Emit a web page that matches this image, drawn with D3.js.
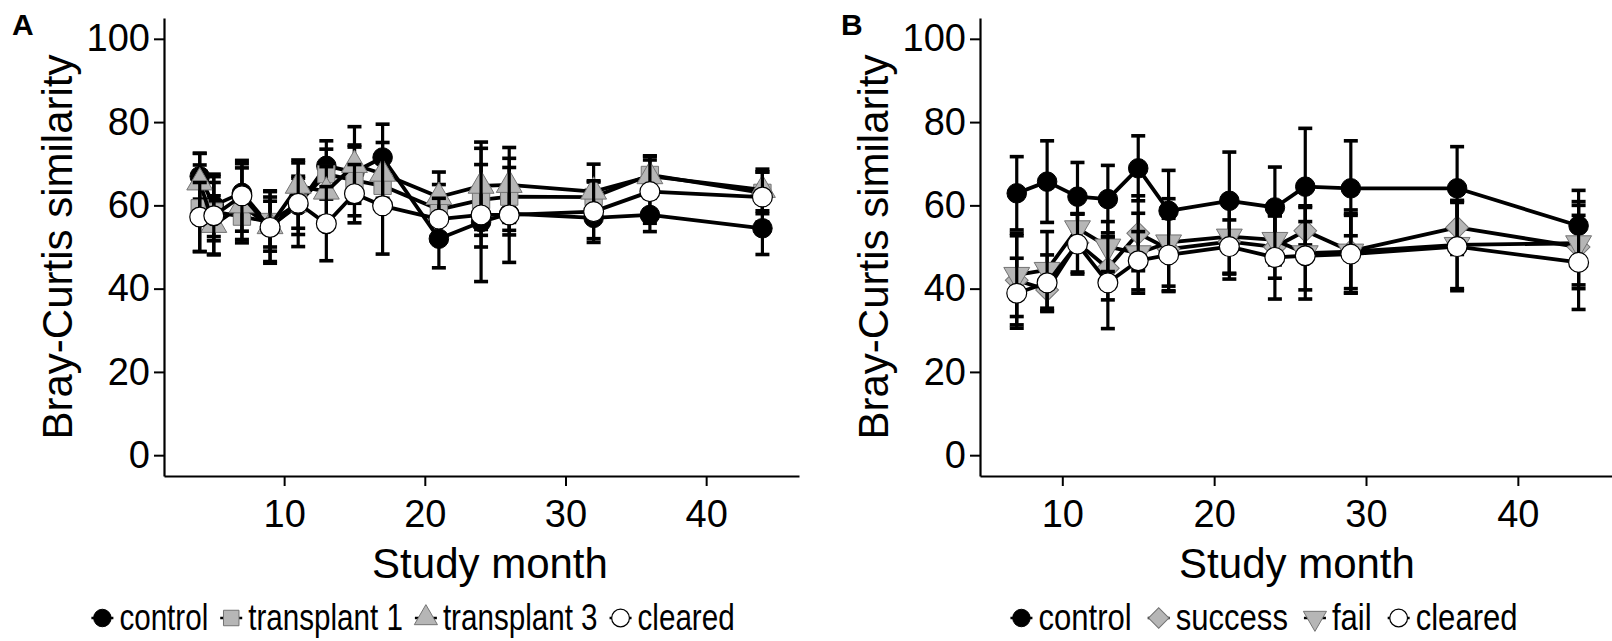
<!DOCTYPE html>
<html>
<head>
<meta charset="utf-8">
<script src="https://cdnjs.cloudflare.com/ajax/libs/d3/7.8.5/d3.min.js"></script>
<style>
  html, body { margin: 0; padding: 0; background: #fff; }
  svg { display: block; font-family: "Liberation Sans", Arial, Helvetica, sans-serif; }
</style>
</head>
<body>
<svg id="chart" width="1612" height="641"></svg>
<script>
// ---- Panel A: similarity to donor over time, by transplant group ----
const monthsA = [4, 5, 7, 9, 11, 13, 15, 17, 21, 24, 26, 32, 36, 44];
const controlA      = [67.0, 60.0, 63.0, 55.0, 60.0, 69.5, 68.0, 71.5, 52.0, 56.0, 58.0, 57.0, 57.7, 54.5];
const controlErrA   = [5.5, 7.5, 7.0, 6.0, 7.0, 6.0, 6.0, 8.0, 7.0, 6.0, 4.0, 5.0, 4.0, 6.3];
const transplant1A    = [59.3, 58.5, 57.3, 56.0, 60.5, 67.5, 66.0, 64.7, 59.0, 61.3, 62.1, 62.0, 67.3, 63.0];
const transplant1ErrA = [10.4, 7.0, 5.5, 6.0, 6.0, 6.0, 8.5, 3.0, 6.0, 8.5, 9.2, 3.6, 4.5, 5.0];
const transplant3A    = [65.5, 55.3, 60.0, 55.0, 64.7, 63.3, 69.7, 67.6, 62.0, 64.7, 64.9, 63.3, 67.0, 63.7];
const transplant3ErrA = [7.0, 7.0, 9.0, 8.5, 5.5, 6.0, 9.2, 7.5, 6.0, 10.5, 9.0, 6.6, 4.9, 5.0];
const clearedA      = [57.2, 57.5, 62.3, 54.7, 60.5, 55.6, 62.8, 59.9, 56.7, 57.7, 57.7, 58.5, 63.3, 62.0];
const clearedErrA   = [8.3, 9.4, 8.5, 8.6, 10.4, 8.9, 7.0, 11.6, 5.0, 16.0, 11.4, 7.4, 7.6, 6.0];

// ---- Panel B: similarity by transplant outcome ----
const monthsB = [7, 9, 11, 13, 15, 17, 21, 24, 26, 29, 36, 44];
const controlB      = [62.9, 65.7, 62.1, 61.5, 68.9, 58.7, 61.1, 59.5, 64.5, 64.1, 64.1, 55.1];
const controlErrB   = [8.8, 9.8, 8.2, 8.1, 7.8, 9.7, 11.7, 9.7, 14.0, 11.4, 10.0, 8.5];
const successB      = [42.0, 39.7, 51.0, 44.9, 53.3, 49.5, 51.3, 50.0, 53.9, 49.0, 54.7, 50.0];
const successErrB   = [10.7, 5.2, 7.0, 7.6, 9.0, 10.0, 9.0, 7.5, 6.0, 9.0, 6.5, 10.0];
const failB         = [43.3, 44.5, 54.5, 50.1, 48.5, 51.1, 52.5, 51.7, 48.5, 48.9, 50.5, 50.9];
const failErrB      = [10.0, 9.2, 3.5, 6.0, 9.6, 10.5, 9.0, 6.0, 11.0, 10.0, 10.5, 10.0];
const clearedB      = [38.9, 41.4, 50.7, 41.4, 46.7, 48.1, 50.1, 47.5, 47.9, 48.3, 50.1, 46.3];
const clearedErrB   = [8.4, 6.7, 7.2, 11.0, 7.0, 8.8, 6.4, 10.0, 8.2, 9.3, 10.6, 11.3];

const yTicks = [0, 20, 40, 60, 80, 100];
const xTicks = [10, 20, 30, 40];
const legendA = ["control", "transplant 1", "transplant 3", "cleared"];
const legendB = ["control", "success", "fail", "cleared"];

const GRAY = "#b6b6b6", GRAY_EDGE = "#737373";

// marker styles
const markers = {
  dot:      { type: d3.symbolCircle, size: 300, fill: "#000", stroke: "#000", sw: 1, rot: 0 },
  square:   { type: d3.symbolSquare, size: 300, fill: GRAY, stroke: GRAY_EDGE, sw: 1, rot: 0 },
  triUp:    { type: d3.symbolTriangle, size: 290, fill: GRAY, stroke: GRAY_EDGE, sw: 1, rot: 0 },
  triDown:  { type: d3.symbolTriangle, size: 290, fill: GRAY, stroke: GRAY_EDGE, sw: 1, rot: 180 },
  diamond:  { type: d3.symbolSquare, size: 260, fill: GRAY, stroke: GRAY_EDGE, sw: 1, rot: 45 },
  open:     { type: d3.symbolCircle, size: 310, fill: "#fff", stroke: "#000", sw: 1.2, rot: 0 }
};

const svg = d3.select("#chart");
const FONT_TICK = 38, FONT_TITLE = 42, FONT_LEGEND = 37;

function drawPanel(cfg) {
  const x = d3.scaleLinear().domain(cfg.xDomain).range(cfg.xRange);
  const y = d3.scaleLinear().domain([-5, 105]).range([476, 18]);
  const g = svg.append("g");

  // axes (L-shaped frame)
  const yAxis = d3.axisLeft(y).tickValues(yTicks).tickSize(10).tickSizeOuter(0).tickPadding(4);
  const gy = g.append("g").attr("transform", `translate(${cfg.xRange[0]},0)`).call(yAxis);
  const xAxis = d3.axisBottom(x).tickValues(xTicks).tickSize(10).tickSizeOuter(0).tickPadding(14);
  const gx = g.append("g").attr("transform", `translate(0,476)`).call(xAxis);
  [gx, gy].forEach(a => {
    a.select(".domain").attr("stroke", "#000").attr("stroke-width", 2.2);
    a.selectAll(".tick line").attr("stroke", "#000").attr("stroke-width", 2);
    a.selectAll(".tick text").attr("fill", "#000").attr("font-size", FONT_TICK)
      .attr("font-family", "Liberation Sans, Arial, sans-serif");
  });

  // axis titles
  g.append("text").attr("x", cfg.xTitleX).attr("y", 578).attr("text-anchor", "middle")
    .attr("font-size", FONT_TITLE).text("Study month");
  g.append("text").attr("transform", `translate(${cfg.yTitleX},247) rotate(-90)`)
    .attr("text-anchor", "middle").attr("font-size", FONT_TITLE).text("Bray-Curtis similarity");

  // panel letter
  g.append("text").attr("x", cfg.letterX).attr("y", 35).attr("font-size", 30)
    .attr("font-weight", "bold").text(cfg.letter);

  // series: line, error bars, markers
  const line = d3.line().x(d => x(d.m)).y(d => y(d.v));
  cfg.series.forEach(s => {
    const pts = cfg.months.map((m, i) => ({ m, v: s.values[i], e: s.errs[i] }));
    const sg = g.append("g");
    sg.append("path").datum(pts).attr("d", line).attr("fill", "none")
      .attr("stroke", "#000").attr("stroke-width", 3.8).attr("stroke-linejoin", "round");
    const eb = sg.selectAll(".eb").data(pts).enter().append("g");
    eb.append("line").attr("x1", d => x(d.m)).attr("x2", d => x(d.m))
      .attr("y1", d => y(d.v - d.e)).attr("y2", d => y(d.v + d.e))
      .attr("stroke", "#000").attr("stroke-width", 3.2);
    [-1, 1].forEach(sign => {
      eb.append("line").attr("x1", d => x(d.m) - 7).attr("x2", d => x(d.m) + 7)
        .attr("y1", d => y(d.v + sign * d.e)).attr("y2", d => y(d.v + sign * d.e))
        .attr("stroke", "#000").attr("stroke-width", 3.6);
    });
    const mk = markers[s.marker];
    sg.selectAll(".pt").data(pts).enter().append("path")
      .attr("d", d3.symbol().type(mk.type).size(mk.size))
      .attr("transform", d => `translate(${x(d.m)},${y(d.v)}) rotate(${mk.rot})`)
      .attr("fill", mk.fill).attr("stroke", mk.stroke).attr("stroke-width", mk.sw);
  });

  // legend: line stub + marker, then narrowed label
  const lg = g.append("g").attr("font-size", FONT_LEGEND);
  let cur = 0;
  cfg.series.forEach((s, i) => {
    const it = lg.append("g");
    const mk = markers[s.marker];
    it.append("line").attr("x1", cur).attr("x2", cur + 22).attr("y1", 0).attr("y2", 0)
      .attr("stroke", "#000").attr("stroke-width", 2.5);
    it.append("path").attr("d", d3.symbol().type(mk.type).size(mk.size * 0.8))
      .attr("transform", `translate(${cur + 11},0) rotate(${mk.rot})`)
      .attr("fill", mk.fill).attr("stroke", mk.stroke).attr("stroke-width", mk.sw);
    const t = it.append("text")
      .attr("transform", `translate(${cur + 28},12) scale(${cfg.legendSqueeze},1)`)
      .text(cfg.legend[i]);
    cur += 28 + t.node().getComputedTextLength() * cfg.legendSqueeze + cfg.legendGap;
  });
  const total = cur - cfg.legendGap;
  lg.attr("transform", `translate(${cfg.legendCenter - total / 2},618)`);
}

drawPanel({
  letter: "A", letterX: 12,
  months: monthsA,
  xDomain: [1.46, 46.6], xRange: [164, 799],
  xTitleX: 490, yTitleX: 72,
  legend: legendA, legendCenter: 413, legendSqueeze: 0.8, legendGap: 12,
  series: [
    { values: controlA, errs: controlErrA, marker: "dot" },
    { values: transplant1A, errs: transplant1ErrA, marker: "square" },
    { values: transplant3A, errs: transplant3ErrA, marker: "triUp" },
    { values: clearedA, errs: clearedErrA, marker: "open" }
  ]
});

drawPanel({
  letter: "B", letterX: 841,
  months: monthsB,
  xDomain: [4.58, 46.2], xRange: [980, 1612],
  xTitleX: 1297, yTitleX: 888,
  legend: legendB, legendCenter: 1264, legendSqueeze: 0.84, legendGap: 16,
  series: [
    { values: controlB, errs: controlErrB, marker: "dot" },
    { values: successB, errs: successErrB, marker: "diamond" },
    { values: failB, errs: failErrB, marker: "triDown" },
    { values: clearedB, errs: clearedErrB, marker: "open" }
  ]
});
</script>
</body>
</html>
